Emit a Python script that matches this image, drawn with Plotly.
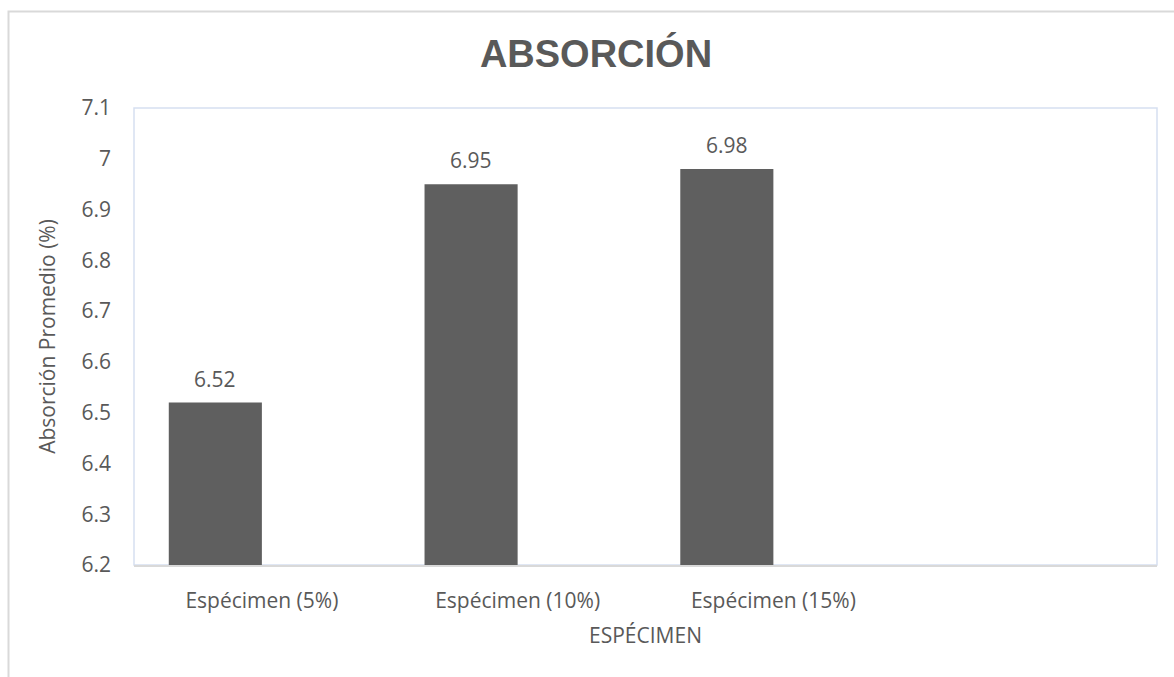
import plotly.graph_objects as go

categories = ["Espécimen (5%)", "Espécimen (10%)", "Espécimen (15%)"]
values = [6.52, 6.95, 6.98]
labels = ["6.52", "6.95", "6.98"]
y_ticks = [6.2, 6.3, 6.4, 6.5, 6.6, 6.7, 6.8, 6.9, 7.0, 7.1]
y_ticktext = ["6.2", "6.3", "6.4", "6.5", "6.6", "6.7", "6.8", "6.9", "7", "7.1"]

W, H = 1174, 677
L, R, T, B = 134, 17, 108, 112
pw, ph = W - L - R, H - T - B

def px_x(p):
    return (p - L) / pw

def px_y(p):
    return (H - B - p) / ph

txt = "#595959"
font = "Open Sans, Noto Sans, sans-serif"

fig = go.Figure()
fig.add_trace(go.Bar(
    x=categories, y=values,
    marker=dict(color="#5f5f5f", line=dict(width=0)),
    width=0.364, offset=-0.364, cliponaxis=False, hoverinfo="skip",
))
for c, v, t in zip(categories, values, labels):
    fig.add_annotation(x=c, y=v, text=t, showarrow=False, xshift=-46.5,
                       yanchor="bottom", yshift=8,
                       font=dict(size=21, color=txt, family=font))

fig.update_layout(
    width=W, height=H,
    margin=dict(l=L, r=R, t=T, b=B),
    paper_bgcolor="white", plot_bgcolor="white",
    showlegend=False,
    title=dict(text="<b>ABSORCIÓN</b>", x=596 / W, xanchor="center",
               y=1 - 54 / H, yanchor="middle",
               font=dict(family="Liberation Sans, Arial, sans-serif", size=38, color=txt)),
    xaxis=dict(type="category", range=[-0.5, 3.5], showgrid=False,
               showline=True, linecolor="#d9d9d9", linewidth=2,
               ticks="", tickfont=dict(size=21, color=txt, family=font),
               ticklabelstandoff=16,
               title=dict(text="ESPÉCIMEN", font=dict(size=21, color=txt, family=font), standoff=15)),
    yaxis=dict(range=[6.2, 7.1], tickvals=y_ticks, ticktext=y_ticktext,
               showgrid=False, zeroline=False, showline=False, ticks="",
               tickfont=dict(size=21, color=txt, family=font), ticklabelstandoff=22,
               title=dict(text="Absorción Promedio (%)", font=dict(size=21, color=txt, family=font), standoff=20)),
    shapes=[
        dict(type="rect", xref="paper", yref="paper", x0=0, x1=1, y0=0, y1=1,
             line=dict(color="#d6e0f1", width=1.5), layer="below"),
        dict(type="path", xref="paper", yref="paper",
             path=f"M {px_x(8.5)} {px_y(690)} L {px_x(8.5)} {px_y(11.5)} L {px_x(1190)} {px_y(11.5)}",
             line=dict(color="#d9d9d9", width=2)),
    ],
)

fig.write_html("out.html", config={"displayModeBar": False},
               post_script="document.body.style.margin='0';document.body.style.padding='0';")
